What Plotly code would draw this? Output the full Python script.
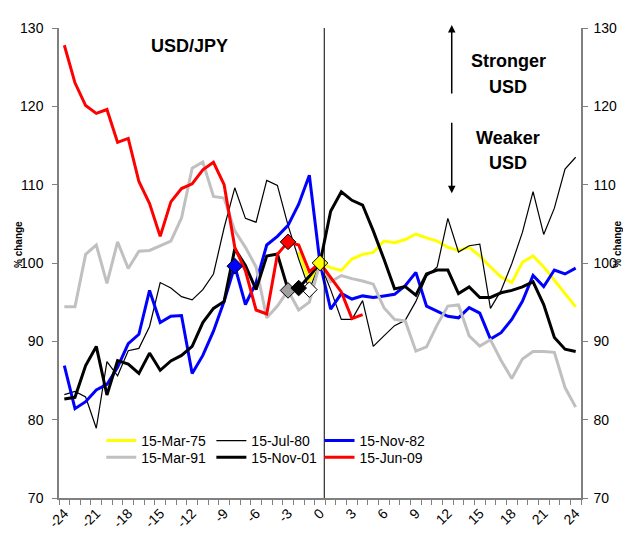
import plotly.graph_objects as go

months = list(range(-24, 25))
tick_months = list(range(-24, 25, 3))
tick_labels = [str(m) for m in tick_months]

mar75 = [None] * 22 + [101.4, 97.6, 100.0, 99.4, 99.05, 100.5, 101.1, 101.35, 102.8, 102.6, 103.0,
                       103.7, 103.2, 102.8, 102.0, 101.6, 102.0, 100.9, 99.5, 98.2, 97.5, 100.1,
                       100.9, 99.5, 97.8, 96.1, 94.4]
jul80 = [83.2, 83.6, 82.9, 78.9, 87.4, 85.6, 88.8, 89.1, 91.9, 97.5, 96.8, 95.7, 95.3, 96.6, 98.6,
         104.5, 109.6, 105.7, 105.2, 110.55, 109.9, 104.8, 100.5, 96.6, 100.0, 96.6, 92.8, 92.8,
         95.2, 89.35, 90.7, 92.0, 92.7, 95.1, 98.3, 99.5, 105.7, 101.4, 102.2, 102.4, 94.2, 96.5,
         99.9, 103.9, 109.1, 103.65, 107.0, 112.0, 113.5]
nov82 = [86.9, 81.4, 82.3, 83.8, 84.5, 86.7, 89.7, 90.9, 96.5, 92.4, 93.2, 93.3, 85.9, 88.2, 91.3,
         95.1, 99.6, 94.7, 97.5, 102.3, 103.4, 104.8, 107.5, 111.2, 100.0, 94.1, 96.1, 95.4, 95.8,
         95.6, 95.8, 96.0, 97.1, 98.8, 94.5, 93.8, 93.2, 93.0, 94.3, 93.6, 90.3, 91.1, 92.8, 95.1,
         98.4, 97.0, 99.1, 98.6, 99.35]
mar91 = [94.4, 94.4, 101.1, 102.3, 97.4, 102.7, 99.3, 101.5, 101.6, 102.2, 102.8, 105.75, 112.1,
         112.9, 108.5, 108.3, 104.1, 102.0, 99.5, 93.0, 94.5, 96.5, 94.0, 95.0, 100.0, 97.6, 98.4,
         98.0, 97.7, 97.3, 94.3, 92.8, 92.6, 88.75, 89.3, 92.1, 94.5, 94.65, 90.7, 89.4, 90.2,
         87.55, 85.25, 87.75, 88.7, 88.7, 88.6, 84.1, 81.6]
nov01 = [82.65, 82.85, 86.9, 89.35, 83.15, 87.55, 87.1, 85.9, 88.5, 86.3, 87.5, 88.2, 89.35, 92.4,
         94.2, 95.1, 101.8, 99.7, 96.6, 100.9, 101.15, 96.6, 96.8, 98.3, 100.0, 106.6, 109.1,
         108.0, 107.4, 104.1, 100.5, 96.7, 97.0, 95.9, 98.6, 99.1, 99.1, 96.1, 96.95, 95.6, 95.6,
         96.2, 96.5, 96.95, 97.6, 94.7, 90.5, 89.0, 88.7]
jun09 = [127.8, 123.0, 120.1, 119.1, 119.6, 115.4, 115.9, 110.4, 107.6, 103.4, 107.8, 109.5, 110.1,
         111.9, 112.85, 110.0, 102.0, 99.0, 94.0, 93.5, 101.1, 102.7, 102.3, 98.9, 100.0, 98.2,
         96.3, 92.9, 93.4] + [None] * 20

series_names = ["15-Mar-75", "15-Jul-80", "15-Nov-82", "15-Mar-91", "15-Nov-01", "15-Jun-09"]
series_values = [mar75, jul80, nov82, mar91, nov01, jun09]
series_colors = ["#FFFF00", "#000000", "#0000FF", "#C0C0C0", "#000000", "#FF0000"]
series_widths = [3, 1.2, 3, 3, 3, 3]
event_months = [0, -1, -8, -3, -2, -3]
marker_fills = ["#FFFF00", "#FFFFFF", "#0000FF", "#A0A0A0", "#000000", "#FF0000"]
marker_order = [1, 3, 2, 5, 4, 0]

FONT = "Liberation Sans, Arial, sans-serif"
OFF = 8  # default page body margin
FIG_W, FIG_H = 631 - OFF, 544 - OFF

# plot area in page pixels
PL, PR, PT, PB = 50, 581, 20, 498
L, R, T, B = PL - OFF, PR - OFF, PT - OFF, PB - OFF
W, H = R - L, B - T

def px_x(p):
    return (p - PL) / W

def px_y(p):
    return (PB - p) / H

fig = go.Figure()

legend_pos = [(93, 440), (205, 440), (315, 440), (93, 457), (205, 457), (315, 457)]

for k, (name, vals, col, lw) in enumerate(zip(series_names, series_values, series_colors, series_widths)):
    lg = "legend" if k == 0 else f"legend{k+1}"
    fig.add_trace(go.Scatter(x=months, y=vals, mode="lines", name=name,
                             line=dict(color=col, width=lw), legend=lg,
                             connectgaps=False, hoverinfo="skip"))

for k in marker_order:
    m = event_months[k]
    fig.add_trace(go.Scatter(x=[m], y=[series_values[k][months.index(m)]], mode="markers",
                             marker=dict(symbol="diamond", size=12, color=marker_fills[k],
                                         line=dict(color="#000000", width=1)),
                             showlegend=False, hoverinfo="skip"))

fig.add_trace(go.Scatter(x=[None], y=[None], yaxis="y2", showlegend=False, hoverinfo="skip"))

legends = {}
for k, (px, py) in enumerate(legend_pos):
    key = "legend" if k == 0 else f"legend{k+1}"
    legends[key] = dict(x=px_x(px), y=px_y(py), xanchor="left", yanchor="middle",
                        bgcolor="rgba(0,0,0,0)", borderwidth=0,
                        font=dict(family=FONT, size=14, color="#000000"),
                        itemwidth=30, tracegroupgap=0)

boundaries = [m - 0.5 for m in months] + [24.5]

fig.update_layout(
    width=FIG_W, height=FIG_H,
    margin=dict(l=L, r=FIG_W - R, t=T, b=FIG_H - B),
    paper_bgcolor="#FFFFFF", plot_bgcolor="#FFFFFF",
    font=dict(family=FONT, size=14, color="#000000"),
    showlegend=True,
    xaxis=dict(range=[-24.5, 24.5], tickmode="array", tickvals=tick_months, ticktext=tick_labels,
               tickangle=-45, ticks="", showgrid=False, zeroline=False,
               showline=True, linecolor="#808080", linewidth=1.5,
               tickfont=dict(family=FONT, size=14, color="#000000"),
               minor=dict(tickmode="array", tickvals=boundaries, ticks="outside", ticklen=5,
                          tickcolor="#808080", tickwidth=1, showgrid=False)),
    yaxis=dict(range=[70, 130], tickmode="array", tickvals=list(range(70, 131, 10)),
               ticks="outside", ticklen=5, tickcolor="#808080", showgrid=False, zeroline=False,
               showline=True, linecolor="#808080", linewidth=1.5, ticklabelstandoff=6,
               tickfont=dict(family=FONT, size=14, color="#000000")),
    yaxis2=dict(range=[70, 130], overlaying="y", side="right", tickmode="array",
                tickvals=list(range(70, 131, 10)), ticks="outside", ticklen=5,
                tickcolor="#808080", showgrid=False, zeroline=False, showline=True,
                linecolor="#808080", linewidth=1.5, ticklabelstandoff=3,
                tickfont=dict(family=FONT, size=14, color="#000000")),
    **legends,
)

fig.add_shape(type="line", xref="x", yref="paper", x0=0.4, x1=0.4, y0=0, y1=1,
              line=dict(color="#000000", width=1))

texts = [("USD/JPY", 183, 38), ("Stronger", 507, 54), ("USD", 507, 80),
         ("Weaker", 507, 132), ("USD", 507, 157)]
for t, xx, yy in texts:
    fig.add_annotation(text=f"<b>{t}</b>", xref="paper", yref="paper", x=px_x(xx), y=px_y(yy),
                       showarrow=False, font=dict(family=FONT, size=18, color="#000000"),
                       xanchor="center", yanchor="middle")

fig.add_annotation(xref="paper", yref="paper", x=px_x(449.5), y=px_y(17), ax=0, ay=70,
                   showarrow=True, arrowhead=2, arrowsize=1, arrowwidth=1.5, arrowcolor="#000000",
                   text="")
fig.add_annotation(xref="paper", yref="paper", x=px_x(449.5), y=px_y(188), ax=0, ay=-72,
                   showarrow=True, arrowhead=2, arrowsize=1, arrowwidth=1.5, arrowcolor="#000000",
                   text="")

for xx in (9, 618):
    fig.add_annotation(text="<b>% change</b>", xref="paper", yref="paper", x=px_x(xx), y=px_y(240),
                       textangle=-90, showarrow=False, xanchor="center", yanchor="middle",
                       font=dict(family=FONT, size=10, color="#000000"))

fig.write_html("out.html")
